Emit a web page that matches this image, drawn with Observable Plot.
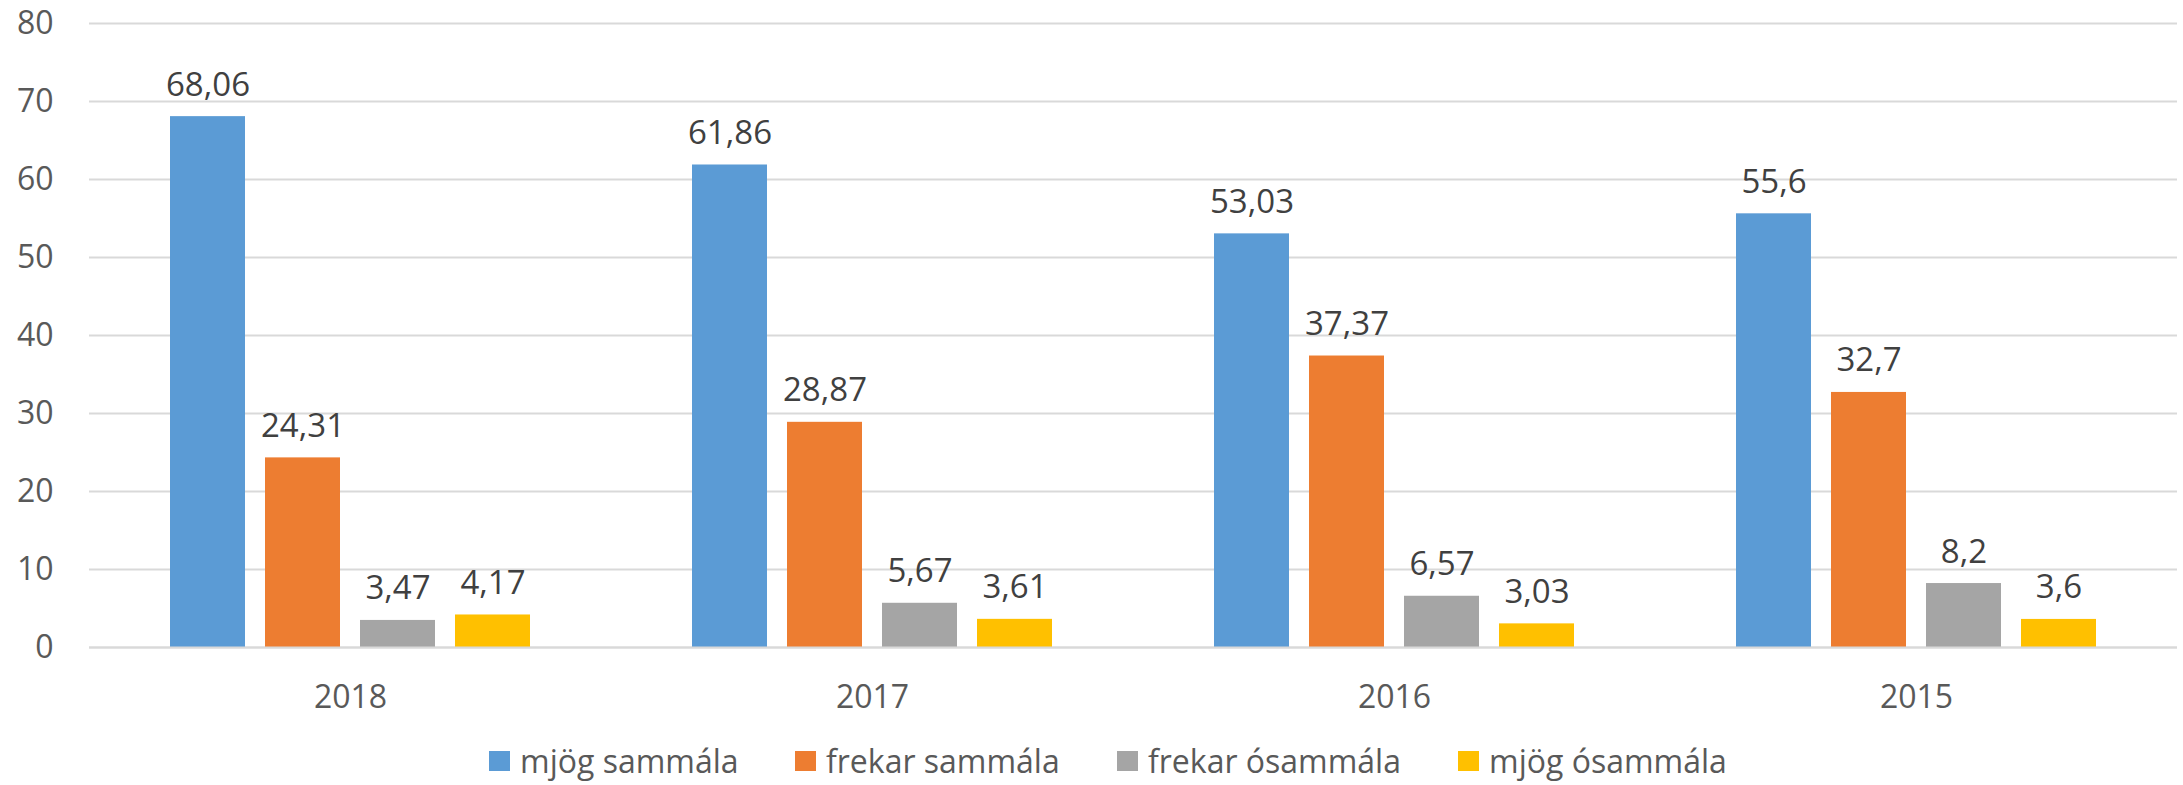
<!DOCTYPE html>
<html>
<head>
<meta charset="utf-8">
<script src="https://cdn.jsdelivr.net/npm/d3@7"></script>
<script src="https://cdn.jsdelivr.net/npm/@observablehq/plot@0.6"></script>
<style>
  html, body { margin: 0; padding: 0; background: #fff; }
  body { width: 2183px; height: 785px; overflow: hidden; font-family: "Open Sans", sans-serif; }
  #legend { position: relative; height: 50px; }
  .item { position: absolute; top: 0; height: 50px; display: flex; align-items: center; font-size: 32px; color: #595959; white-space: nowrap; }
  .sw { width: 21px; height: 20px; margin-right: 10px; margin-top: 2px; }
</style>
</head>
<body>
<div id="chart"></div>
<div id="legend"></div>
<script>
const years = ["2018", "2017", "2016", "2015"];
const series = ["mjög sammála", "frekar sammála", "frekar ósammála", "mjög ósammála"];
const colors = ["#5b9bd5", "#ed7d31", "#a5a5a5", "#ffc000"];
const mjogSammala = [68.06, 61.86, 53.03, 55.6];
const frekarSammala = [24.31, 28.87, 37.37, 32.7];
const frekarOsammala = [3.47, 5.67, 6.57, 8.2];
const mjogOsammala = [4.17, 3.61, 3.03, 3.6];
const yTicks = [0, 10, 20, 30, 40, 50, 60, 70, 80];

const seriesValues = [mjogSammala, frekarSammala, frekarOsammala, mjogOsammala];
const data = [];
years.forEach((yr, i) => {
  series.forEach((s, j) => {
    data.push({year: yr, series: s, value: seriesValues[j][i]});
  });
});
const fmt = v => String(v).replace(".", ",");

const chart = Plot.plot({
  width: 2183,
  height: 735,
  marginLeft: 88,
  marginRight: 6,
  marginTop: 23,
  marginBottom: 88,
  style: {fontFamily: "'Open Sans', sans-serif", fontSize: "32px", background: "#fff"},
  fx: {domain: years, padding: 0, label: null},
  x: {domain: series, paddingInner: 20 / 95, paddingOuter: 81 / 95, axis: null},
  y: {domain: [0, 80], label: null},
  color: {domain: series, range: colors},
  marks: [
    Plot.gridY(yTicks, {stroke: "#d9d9d9", strokeOpacity: 1, strokeWidth: 2}),
    Plot.barY(data, {fx: "year", x: "series", y: "value", fill: "series"}),
    Plot.text(data, {fx: "year", x: "series", y: "value", text: d => fmt(d.value), lineAnchor: "bottom", dy: -21, fill: "#404040", fontSize: 33}),
    Plot.ruleY([0], {stroke: "#d9d9d9", strokeWidth: 2}),
    Plot.axisY(yTicks, {tickSize: 0, tickPadding: 36, fill: "#595959", fontSize: 32, label: null}),
    Plot.axisFx({anchor: "bottom", tickSize: 0, tickPadding: 38, fill: "#595959", fontSize: 32, label: null})
  ]
});
document.getElementById("chart").appendChild(chart);

const legend = document.getElementById("legend");
const legendX = [489, 795, 1117, 1458];
series.forEach((s, i) => {
  const it = document.createElement("div");
  it.className = "item";
  it.style.left = legendX[i] + "px";
  const sw = document.createElement("div");
  sw.className = "sw";
  sw.style.background = colors[i];
  const t = document.createElement("span");
  t.textContent = s;
  it.appendChild(sw);
  it.appendChild(t);
  legend.appendChild(it);
});
</script>
</body>
</html>
